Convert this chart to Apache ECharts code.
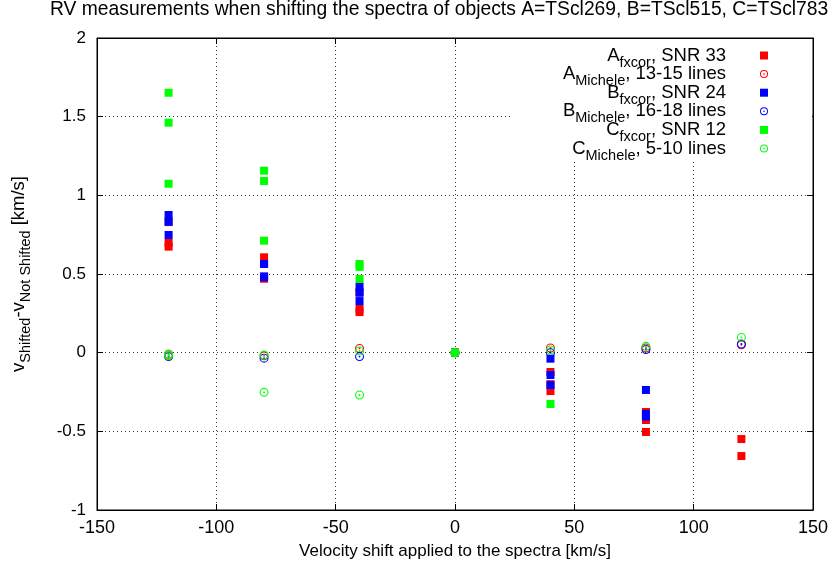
<!DOCTYPE html>
<html><head><meta charset="utf-8">
<script src="https://cdn.jsdelivr.net/npm/echarts@6/dist/echarts.min.js"></script>
<style>html,body{margin:0;padding:0;background:#fff}#c{width:834px;height:576px}</style>
</head><body><div id="c"></div>
<script>
// x positions (velocity shift, km/s)
const shifts = [-120, -80, -40, 0, 40, 80, 120];
const xTicks = [-150, -100, -50, 0, 50, 100, 150];
const yTicks = [-1, -0.5, 0, 0.5, 1, 1.5, 2];
// values per shift (km/s)
const aFxcor   = [[0.83,0.697,0.674],[0.606,0.565,0.47],[0.384,0.278,0.258],[0],[-0.123,-0.2,-0.244],[-0.377,-0.428,-0.504],[-0.549,-0.657]];
const aMichele = [[-0.01,-0.02],[-0.02],[0.027],[0],[0.03],[0.03],[0.05]];
const bFxcor   = [[0.875,0.832,0.748],[0.564,0.479,0.485],[0.419,0.381,0.328],[0],[-0.038,-0.142,-0.206],[-0.237,-0.39,-0.407],[]];
const bMichele = [[-0.025],[-0.035],[-0.025],[0],[0.0],[0.02],[0.055]];
const cFxcor   = [[1.652,1.462,1.074],[1.157,1.091,0.712],[0.564,0.545,0.468],[0],[-0.326],[],[]];
const cMichele = [[-0.01,-0.02],[-0.015,-0.252],[0.011,-0.269],[0],[0.017],[0.04],[0.097]];

const seriesNames = ['A fxcor','A Michele','B fxcor','B Michele','C fxcor','C Michele'];
const legendTexts = ['{m|A}{s|fxcor}{e|, SNR 33}','{m|A}{s|Michele}{e|, 13-15 lines}','{m|B}{s|fxcor}{e|, SNR 24}','{m|B}{s|Michele}{e|, 16-18 lines}','{m|C}{s|fxcor}{e|, SNR 12}','{m|C}{s|Michele}{e|, 5-10 lines}'];
const colors = ['#ff0000','#ff0000','#0000ff','#0000ff','#00ff00','#00ff00'];
const values = [aFxcor,aMichele,bFxcor,bMichele,cFxcor,cMichele];

const FONT = "'Liberation Sans', Arial, sans-serif";
const ring = 'path://M10,0A10,10,0,1,1,10,20A10,10,0,1,1,10,0ZM10,2.4A7.6,7.6,0,1,0,10,17.6A7.6,7.6,0,1,0,10,2.4ZM10,8A2,2,0,1,1,10,12A2,2,0,1,1,10,8Z';

function pts(vals){ const out=[]; vals.forEach((arr,i)=>arr.forEach(v=>out.push([shifts[i],v]))); return out; }

const series = values.map((v,i)=>({
  name: seriesNames[i], type:'scatter', data: pts(v),
  symbol: (i%2===0) ? 'rect' : ring,
  symbolSize: (i%2===0) ? 8 : 9,
  itemStyle:{color: colors[i], opacity:1},
  z: 2 + i, silent:true
}));

const legendMap = {}; seriesNames.forEach((n,i)=>legendMap[n]=legendTexts[i]);
const gridLine = {show:true, lineStyle:{color:'#333', type:[1,3], width:1}};
const tick = {show:true, inside:true, length:6, lineStyle:{color:'#000'}};
const axLine = {show:true, onZero:false, lineStyle:{color:'#000'}};

const chart = echarts.init(document.getElementById('c'), null, {renderer:'canvas'});
chart.setOption({
  animation:false,
  backgroundColor:'#fff',
  textStyle:{fontFamily:FONT},
  title:{text:'RV measurements when shifting the spectra of objects A=TScl269, B=TScl515, C=TScl783',
    left:50, top:0, padding:0, textStyle:{fontSize:19.3, fontWeight:'normal', color:'#000', fontFamily:FONT}},
  grid:{left:97, right:21, top:38, bottom:66, show:true, borderColor:'#000', borderWidth:1, containLabel:false, outerBoundsMode:'none'},
  graphic:[{type:'rect', shape:{x:512, y:39, width:300, height:121}, style:{fill:'#fff'}, z:1, silent:true}],
  legend:{
    orient:'vertical', align:'right', right:66, top:41, padding:0, itemGap:-10.4,
    itemWidth:8, itemHeight:8, data: seriesNames, selectedMode:false,
    formatter: n => legendMap[n],
    textStyle:{color:'#000', fontFamily:FONT, rich:{
      m:{fontSize:18.5, lineHeight:18, fontFamily:FONT, color:'#000'},
      s:{fontSize:14.5, lineHeight:14, padding:[14,0,0,0], fontFamily:FONT, color:'#000'},
      e:{fontSize:18.5, lineHeight:18, padding:[0,29,0,0], fontFamily:FONT, color:'#000'}
    }}
  },
  xAxis:[{type:'value', min:xTicks[0], max:xTicks[xTicks.length-1], interval:50, position:'bottom',
      axisLine:axLine, axisTick:tick, splitLine:gridLine,
      axisLabel:{color:'#000', fontSize:18, margin:9, fontFamily:FONT, showMinLabel:true, showMaxLabel:true},
      name:'Velocity shift applied to the spectra [km/s]', nameLocation:'middle', nameGap:33,
      nameTextStyle:{color:'#000', fontSize:17, fontFamily:FONT}},
    {type:'value', min:xTicks[0], max:xTicks[xTicks.length-1], interval:50, position:'top',
      axisLine:axLine, axisTick:tick, splitLine:{show:false}, axisLabel:{show:false}}],
  yAxis:[{type:'value', min:yTicks[0], max:yTicks[yTicks.length-1], interval:0.5, position:'left',
      axisLine:axLine, axisTick:tick, splitLine:gridLine,
      axisLabel:{color:'#000', fontSize:17, margin:11, fontFamily:FONT, showMinLabel:true, showMaxLabel:true},
      name:'{m|v}{s|Shifted}{m|-v}{s|Not Shifted}{m| [km/s]}', nameLocation:'middle', nameGap:69, nameRotate:90,
      nameTextStyle:{color:'#000', fontFamily:FONT, rich:{
        m:{fontSize:18.5, lineHeight:18, fontFamily:FONT, color:'#000'},
        s:{fontSize:14.5, lineHeight:14, padding:[14,0,0,0], fontFamily:FONT, color:'#000'}
      }}},
    {type:'value', min:yTicks[0], max:yTicks[yTicks.length-1], interval:0.5, position:'right',
      axisLine:axLine, axisTick:tick, splitLine:{show:false}, axisLabel:{show:false}}],
  series: series
});
</script></body></html>
